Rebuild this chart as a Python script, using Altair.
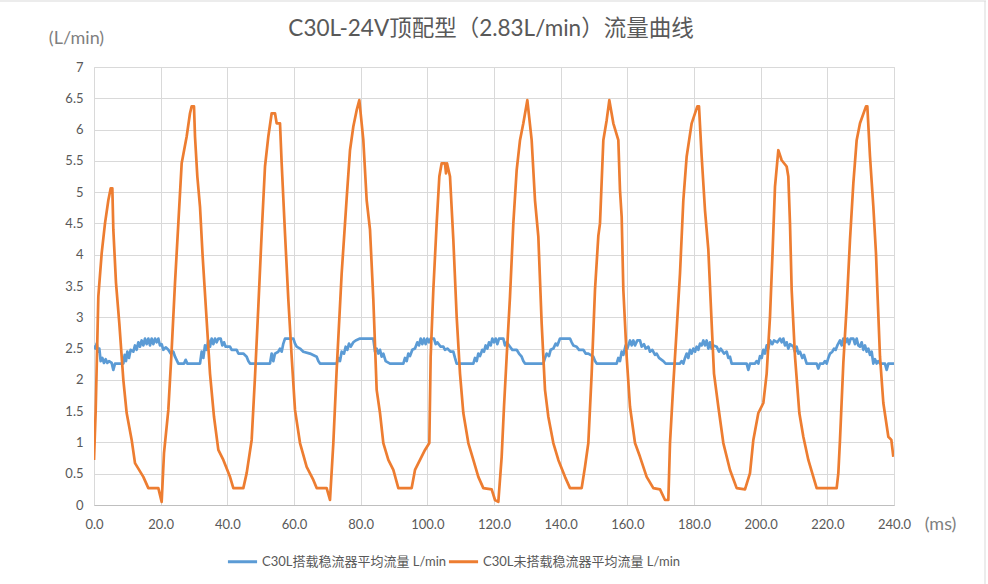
import altair as alt
import pandas as pd

# ---------------- data (time in ms, flow in L/min) ----------------
ORANGE_POINTS = [
    (0, 0.72), (0.5, 1.5), (1.3, 3.33), (2.3, 4.02), (3.3, 4.5), (4.3, 4.87), (5.0, 5.06), (5.5, 5.06),
    (5.8, 4.4), (6.6, 3.55), (7.6, 2.9), (8.8, 2.0), (9.8, 1.47), (11.3, 1.04), (12.3, 0.67), (14.8, 0.45),
    (16.3, 0.27), (19.3, 0.27), (20.3, 0.05), (21.0, 0.83), (22.3, 1.52), (23.3, 2.48), (24.3, 3.55),
    (25.3, 4.5), (26.3, 5.46), (27.8, 5.89), (28.8, 6.26), (29.3, 6.37), (30.0, 6.37), (30.3, 5.89),
    (31.0, 5.25), (31.8, 4.77), (32.6, 3.97), (33.6, 3.12), (34.8, 2.1), (36.0, 1.41), (37.3, 0.88),
    (38.8, 0.72), (40.8, 0.45), (41.8, 0.27), (44.8, 0.27), (45.8, 0.51), (47.3, 1.04), (48.3, 2.05),
    (49.3, 3.17), (50.3, 4.34), (51.3, 5.41), (52.3, 5.89), (53.3, 6.26), (54.3, 6.26), (54.8, 6.1),
    (55.8, 6.1), (56.3, 5.46), (57.3, 4.34), (58.3, 3.28), (59.3, 2.37), (60.3, 1.52), (61.8, 0.99),
    (63.8, 0.61), (65.8, 0.4), (66.8, 0.27), (69.8, 0.27), (70.8, 0.08), (71.8, 0.99), (72.8, 2.16),
    (74.3, 3.7), (75.8, 4.9), (76.8, 5.67), (77.8, 6.05), (78.8, 6.31), (79.6, 6.47), (80.8, 5.83),
    (81.8, 4.87), (82.8, 4.4), (83.8, 3.28), (84.8, 1.84), (85.8, 1.47), (86.8, 0.99), (88.3, 0.72),
    (89.8, 0.56), (91.3, 0.27), (95.3, 0.27), (96.3, 0.56), (97.8, 0.72), (99.3, 0.88), (100.6, 0.99),
    (101.0, 2.37), (101.8, 3.44), (102.8, 4.5), (103.6, 5.25), (104.3, 5.46), (105.3, 5.46), (105.6, 5.3),
    (105.9, 5.46), (106.8, 5.25), (107.8, 4.24), (108.8, 3.01), (109.8, 2.1), (110.8, 1.47), (112.3, 0.99),
    (113.8, 0.72), (115.3, 0.45), (116.8, 0.27), (119.3, 0.25), (120.3, 0.08), (121.3, 0.05), (122.3, 0.77),
    (123.0, 1.57), (123.8, 2.37), (124.8, 3.33), (125.8, 4.5), (126.8, 5.35), (127.8, 5.83), (128.8, 6.1),
    (130.0, 6.47), (131.3, 5.83), (132.3, 4.87), (133.3, 4.29), (134.3, 2.9), (135.3, 1.84), (136.3, 1.41),
    (137.8, 0.99), (139.3, 0.72), (141.3, 0.45), (142.8, 0.27), (146.3, 0.27), (147.3, 0.61), (148.3, 0.99),
    (149.3, 2.1), (150.3, 3.44), (151.3, 4.3), (151.8, 4.5), (152.8, 5.83), (153.8, 6.15), (154.6, 6.47),
    (155.8, 6.1), (157.3, 5.83), (157.8, 5.03), (158.3, 4.61), (158.8, 3.44), (159.8, 2.37), (160.8, 1.57),
    (162.3, 0.99), (163.8, 0.77), (165.8, 0.45), (167.8, 0.27), (169.8, 0.25), (171.3, 0.08), (172.3, 0.08),
    (172.8, 0.99), (173.8, 1.94), (174.8, 2.8), (175.8, 3.7), (176.8, 4.87), (177.8, 5.57), (179.3, 6.1),
    (181.0, 6.37), (181.5, 6.37), (182.3, 5.57), (183.3, 4.71), (184.3, 4.08), (185.3, 2.9), (186.0, 2.1),
    (187.3, 1.57), (188.8, 0.99), (190.8, 0.56), (192.8, 0.27), (195.3, 0.25), (196.8, 0.51), (197.8, 1.04),
    (199.3, 1.47), (200.8, 1.63), (201.8, 2.1), (202.8, 3.01), (203.6, 4.08), (204.3, 5.09), (205.3, 5.67),
    (206.3, 5.51), (207.8, 5.41), (208.3, 5.25), (208.8, 4.5), (209.3, 3.44), (210.3, 2.37), (211.6, 1.47),
    (212.8, 1.09), (214.3, 0.72), (215.8, 0.45), (216.8, 0.27), (222.8, 0.27), (223.3, 0.51), (223.8, 1.04),
    (224.8, 2.27), (225.8, 3.17), (226.8, 4.24), (227.8, 5.14), (228.8, 5.83), (229.8, 6.1), (231.6, 6.37),
    (232.0, 6.37), (232.8, 5.57), (233.8, 4.77), (234.6, 4.02), (235.0, 3.44), (235.8, 2.37), (236.8, 1.63),
    (238.3, 1.09), (239.2, 1.04), (239.8, 0.77),
]

BLUE_POINTS = [
    (0, 2.55), (0.4, 2.5), (0.8, 2.58), (1.2, 2.45), (1.6, 2.5), (2.0, 2.3), (2.5, 2.35), (3.0, 2.27),
    (3.5, 2.33), (4.0, 2.27), (4.5, 2.3), (5.3, 2.27), (5.8, 2.16), (6.3, 2.26), (8.8, 2.26), (9.2, 2.4),
    (9.6, 2.3), (10.0, 2.45), (10.5, 2.35), (11.0, 2.48), (11.8, 2.45), (12.3, 2.55), (12.8, 2.48),
    (13.3, 2.6), (13.8, 2.53), (14.3, 2.63), (14.8, 2.55), (15.3, 2.66), (15.8, 2.57), (16.3, 2.66),
    (16.8, 2.55), (17.3, 2.66), (17.8, 2.57), (18.3, 2.66), (18.8, 2.6), (19.3, 2.66), (19.8, 2.55),
    (20.3, 2.57), (20.8, 2.48), (21.5, 2.52), (22.3, 2.48), (23.0, 2.42), (23.8, 2.45), (24.3, 2.37),
    (25.3, 2.26), (27.0, 2.26), (27.5, 2.32), (28.0, 2.26), (31.8, 2.26), (32.3, 2.45), (32.8, 2.35),
    (33.3, 2.55), (33.8, 2.48), (34.3, 2.63), (34.8, 2.53), (35.3, 2.66), (35.8, 2.57), (36.3, 2.66),
    (36.8, 2.6), (37.3, 2.66), (38.0, 2.66), (38.5, 2.55), (39.0, 2.6), (39.5, 2.53), (40.8, 2.53),
    (41.3, 2.48), (42.8, 2.48), (43.3, 2.42), (44.8, 2.42), (45.8, 2.37), (46.3, 2.3), (46.8, 2.26),
    (52.8, 2.26), (53.3, 2.42), (53.8, 2.3), (54.3, 2.42), (55.3, 2.45), (55.8, 2.5), (56.3, 2.45),
    (56.8, 2.58), (57.3, 2.66), (59.8, 2.66), (60.3, 2.58), (60.8, 2.53), (61.8, 2.5), (62.8, 2.45),
    (64.8, 2.42), (66.8, 2.37), (67.3, 2.3), (67.8, 2.26), (72.8, 2.26), (73.3, 2.35), (73.8, 2.3),
    (74.3, 2.45), (75.0, 2.42), (75.5, 2.53), (76.0, 2.48), (76.5, 2.58), (77.0, 2.53), (77.8, 2.6),
    (78.5, 2.63), (79.8, 2.66), (83.8, 2.66), (84.3, 2.45), (84.8, 2.5), (85.3, 2.42), (85.8, 2.48),
    (86.3, 2.37), (86.8, 2.42), (87.5, 2.3), (88.8, 2.26), (92.8, 2.26), (93.3, 2.35), (93.8, 2.3),
    (94.3, 2.42), (94.8, 2.38), (95.5, 2.48), (96.3, 2.5), (97.0, 2.6), (97.5, 2.55), (98.0, 2.66),
    (98.5, 2.57), (99.0, 2.66), (99.5, 2.57), (100.0, 2.66), (100.5, 2.6), (101.0, 2.66), (102.0, 2.66),
    (102.5, 2.57), (103.0, 2.6), (104.0, 2.53), (104.8, 2.53), (105.3, 2.48), (106.0, 2.5), (107.0, 2.45),
    (107.8, 2.45), (108.3, 2.35), (108.8, 2.26), (113.8, 2.26), (114.3, 2.35), (114.8, 2.3), (115.3, 2.42),
    (115.8, 2.38), (116.5, 2.48), (117.0, 2.45), (117.5, 2.55), (118.0, 2.5), (118.5, 2.6), (119.0, 2.55),
    (119.5, 2.66), (120.0, 2.6), (120.5, 2.66), (121.0, 2.57), (121.5, 2.66), (122.8, 2.66), (123.3, 2.55),
    (123.8, 2.6), (124.8, 2.53), (125.5, 2.48), (126.8, 2.48), (127.5, 2.42), (128.3, 2.37), (128.8, 2.3),
    (129.3, 2.26), (134.8, 2.26), (135.3, 2.35), (135.8, 2.42), (136.5, 2.38), (137.0, 2.48), (137.8, 2.5),
    (138.5, 2.58), (139.0, 2.55), (139.8, 2.66), (142.8, 2.66), (143.3, 2.6), (143.8, 2.55), (144.8, 2.53),
    (145.5, 2.48), (146.8, 2.48), (147.5, 2.42), (148.3, 2.42), (149.8, 2.37), (150.3, 2.3), (150.8, 2.26),
    (156.8, 2.26), (157.3, 2.35), (157.8, 2.3), (158.3, 2.45), (158.8, 2.4), (159.5, 2.55), (160.0, 2.5),
    (160.8, 2.63), (161.3, 2.55), (161.8, 2.63), (162.3, 2.55), (163.0, 2.63), (163.8, 2.63), (164.3, 2.53),
    (165.0, 2.57), (165.5, 2.5), (166.3, 2.53), (166.8, 2.45), (167.5, 2.48), (168.3, 2.4), (168.8, 2.42),
    (169.5, 2.35), (170.8, 2.3), (171.5, 2.26), (172.8, 2.26), (175.8, 2.26), (176.3, 2.3), (176.8, 2.26),
    (177.3, 2.35), (177.8, 2.42), (178.3, 2.35), (178.8, 2.48), (179.3, 2.42), (179.8, 2.5), (180.3, 2.45),
    (180.8, 2.53), (181.3, 2.48), (181.8, 2.58), (182.3, 2.55), (182.8, 2.63), (183.3, 2.55), (183.8, 2.63),
    (184.3, 2.5), (184.8, 2.6), (185.3, 2.5), (185.8, 2.55), (186.8, 2.53), (187.5, 2.45), (188.0, 2.5),
    (189.0, 2.42), (189.8, 2.45), (190.3, 2.35), (190.8, 2.37), (191.3, 2.26), (195.8, 2.26), (196.3, 2.16),
    (196.8, 2.26), (198.3, 2.26), (198.8, 2.3), (199.3, 2.26), (199.8, 2.38), (200.3, 2.35), (200.8, 2.48),
    (201.3, 2.42), (201.8, 2.55), (202.3, 2.5), (202.8, 2.63), (203.5, 2.57), (204.0, 2.63), (205.0, 2.6),
    (205.8, 2.66), (206.3, 2.6), (206.8, 2.66), (207.3, 2.55), (207.8, 2.6), (208.3, 2.5), (208.8, 2.57),
    (209.8, 2.53), (210.3, 2.45), (210.8, 2.53), (211.3, 2.42), (211.8, 2.45), (212.5, 2.35), (213.0, 2.4),
    (213.8, 2.26), (216.8, 2.26), (217.3, 2.18), (217.8, 2.26), (218.8, 2.26), (219.3, 2.3), (219.8, 2.26),
    (220.3, 2.35), (220.8, 2.42), (221.5, 2.45), (222.0, 2.5), (222.5, 2.48), (223.0, 2.55), (223.8, 2.63),
    (224.3, 2.55), (224.8, 2.66), (225.5, 2.6), (226.0, 2.66), (226.5, 2.57), (227.0, 2.66), (227.8, 2.66),
    (228.3, 2.57), (228.8, 2.66), (229.3, 2.55), (229.8, 2.53), (230.3, 2.6), (230.8, 2.48), (231.3, 2.55),
    (231.8, 2.45), (232.3, 2.5), (232.8, 2.4), (233.3, 2.45), (233.8, 2.26), (234.3, 2.33), (234.8, 2.26),
    (235.3, 2.3), (235.8, 2.26), (237.3, 2.26), (237.8, 2.16), (238.3, 2.26), (240.0, 2.26),
]

SERIES = ["C30L搭载稳流器平均流量 L/min", "C30L未搭载稳流器平均流量 L/min"]
COLORS = ["#5B9BD5", "#ED7D31"]
TITLE = "C30L-24V顶配型（2.83L/min）流量曲线"
X_TICKS = [0, 20, 40, 60, 80, 100, 120, 140, 160, 180, 200, 220, 240]
Y_TICKS = [0, 0.5, 1, 1.5, 2, 2.5, 3, 3.5, 4, 4.5, 5, 5.5, 6, 6.5, 7]

FONT = "Lato, 'Noto Sans CJK SC', sans-serif"
TXT = "#595959"
GRID = "#D9D9D9"

rows = []
for i, (m, v) in enumerate(BLUE_POINTS):
    rows.append({"ms": m, "val": v, "series": SERIES[0], "ord": 0, "i": i})
for i, (m, v) in enumerate(ORANGE_POINTS):
    rows.append({"ms": m, "val": v, "series": SERIES[1], "ord": 1, "i": i})
df = pd.DataFrame(rows)

lines = alt.Chart(df).mark_line(strokeWidth=2.7, strokeJoin="round", clip=True).encode(
    x=alt.X("ms:Q",
            scale=alt.Scale(domain=[0, 240], nice=False),
            axis=alt.Axis(values=X_TICKS, labelExpr="format(datum.value, '.1f')", title="(ms)",
                          labelFlush=False, labelOverlap=False,
                          titleAngle=0, titleX=846, titleY=19, titleAlign="center", titleBaseline="middle",
                          titleFontSize=18, titleFontWeight="normal", titleColor="#7F7F7F", titleFont=FONT,
                          labelFontSize=13, labelColor=TXT, labelFont=FONT, labelPadding=13,
                          ticks=False, domainColor="#BFBFBF", domainWidth=1,
                          gridColor=GRID, gridWidth=1)),
    y=alt.Y("val:Q",
            scale=alt.Scale(domain=[0, 7], nice=False),
            axis=alt.Axis(values=Y_TICKS, title="(L/min)", titleAngle=0, titleX=-18, titleY=-29,
                          labelExpr="'' + datum.value", labelFlush=False, labelOverlap=False,
                          titleAlign="center", titleBaseline="middle", titleFontSize=18,
                          titleFontWeight="normal", titleColor="#7F7F7F", titleFont=FONT,
                          labelFontSize=13, labelColor=TXT, labelFont=FONT, labelPadding=11,
                          ticks=False, domain=False, gridColor=GRID, gridWidth=1)),
    color=alt.Color("series:N",
                    scale=alt.Scale(domain=SERIES, range=COLORS),
                    legend=alt.Legend(title=None, orient="none", direction="horizontal",
                                      legendX=132, legendY=478, symbolType="stroke",
                                      symbolSize=850, symbolStrokeWidth=3, labelFontSize=13,
                                      labelColor=TXT, labelFont=FONT, labelOffset=3,
                                      columnPadding=-8, labelLimit=400)),
    order=alt.Order("i:Q"),
    detail="ord:N",
)

title_df = pd.DataFrame({"t": [TITLE]})
title = alt.Chart(title_df).mark_text(fontSize=22.5, font=FONT, color=TXT, align="center",
                                      baseline="middle").encode(
    text="t:N", x=alt.value(397), y=alt.value(-38))

border_top = alt.Chart(title_df).mark_rule(color="#D9D9D9", strokeWidth=1).encode(
    x=alt.value(-94), x2=alt.value(892), y=alt.value(-66))
border_right = alt.Chart(title_df).mark_rule(color="#D9D9D9", strokeWidth=1).encode(
    x=alt.value(891), y=alt.value(-66), y2=alt.value(517))

chart = alt.layer(lines, title, border_top, border_right).properties(
    width=800, height=438,
    padding={"left": 94, "top": 67, "right": 94, "bottom": 79},
    autosize=alt.AutoSizeParams(type="none"),
).configure_view(stroke=None).configure(background="white")

chart.save("out.html", embed_options={"renderer": "svg", "actions": False})
